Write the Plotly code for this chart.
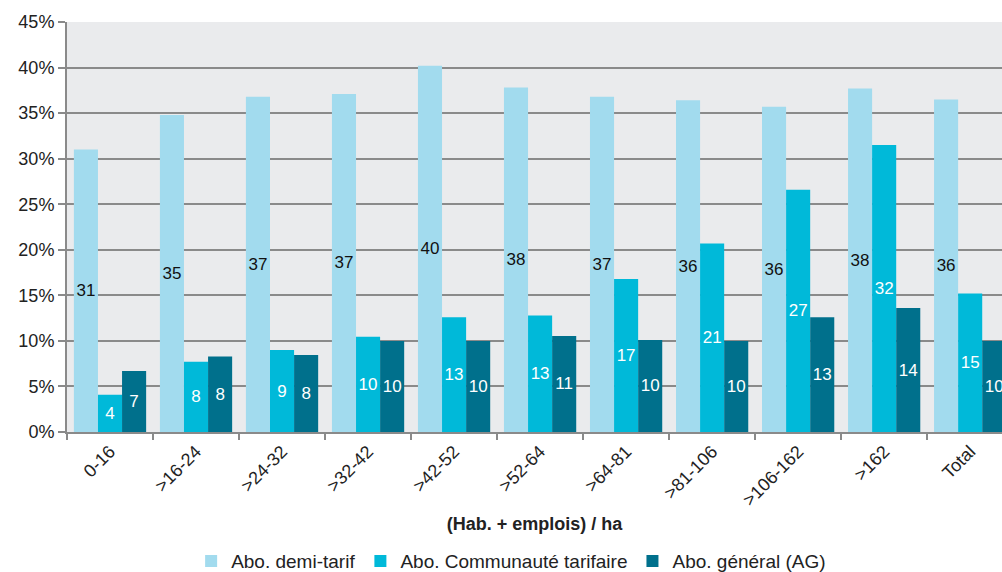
import plotly.graph_objects as go

categories = ["0-16", ">16-24", ">24-32", ">32-42", ">42-52", ">52-64",
              ">64-81", ">81-106", ">106-162", ">162", "Total"]
demi_tarif = [31.0, 34.8, 36.8, 37.1, 40.2, 37.8, 36.8, 36.4, 35.7, 37.7, 36.5]
communaute = [4.1, 7.7, 9.0, 10.45, 12.6, 12.8, 16.8, 20.7, 26.6, 31.5, 15.2]
general_ag = [6.7, 8.3, 8.45, 10.0, 10.0, 10.55, 10.1, 10.0, 12.6, 13.6, 10.0]
series_names = ["Abo. demi-tarif", "Abo. Communauté tarifaire", "Abo. général (AG)"]
y_ticks = [0, 5, 10, 15, 20, 25, 30, 35, 40, 45]

colors = ["#a2dbee", "#00b9d9", "#00708c"]
text_colors = ["#111111", "#ffffff", "#ffffff"]

fig = go.Figure()
for name, vals, col, tcol in zip(series_names, [demi_tarif, communaute, general_ag], colors, text_colors):
    fig.add_trace(go.Bar(
        x=categories, y=vals, name=name,
        marker=dict(color=col, line=dict(width=0)),
        text=[str(int(round(v))) for v in vals],
        textposition="inside", insidetextanchor="middle", textangle=0,
        textfont=dict(family="Liberation Sans, Arial", size=17, color=tcol),
        constraintext="none", cliponaxis=True,
    ))

fig.update_layout(
    width=1002, height=572,
    margin=dict(l=67, r=0, t=22, b=140, autoexpand=False),
    barmode="group", bargap=0.16, bargroupgap=0,
    plot_bgcolor="#eaebed", paper_bgcolor="#ffffff",
    font=dict(family="Liberation Sans, Arial", size=18, color="#222222"),
    legend=dict(orientation="h", x=0.475, xanchor="center", y=-0.315, yanchor="middle",
                font=dict(size=19, color="#222222"), itemwidth=30, traceorder="normal"),
    xaxis=dict(
        range=[-0.5, 10.37], tickangle=-45, tickson="boundaries",
        ticks="outside", ticklen=6, tickcolor="#8a8a8a", tickwidth=2,
        showline=True, linecolor="#8a8a8a", linewidth=2,
        tickfont=dict(size=18),
        title=dict(text="<b>(Hab. + emplois) / ha</b>", font=dict(size=18), standoff=8),
        showgrid=False,
    ),
    yaxis=dict(
        range=[0, 45], tickvals=y_ticks, ticktext=[f"{v}%" for v in y_ticks],
        ticks="outside", ticklen=7, tickcolor="#8a8a8a", tickwidth=2,
        showline=True, linecolor="#8a8a8a", linewidth=2,
        showgrid=True, gridcolor="#8a8a8a", gridwidth=2,
        tickfont=dict(size=18), zeroline=False,
    ),
)

fig.write_html("out.html")
